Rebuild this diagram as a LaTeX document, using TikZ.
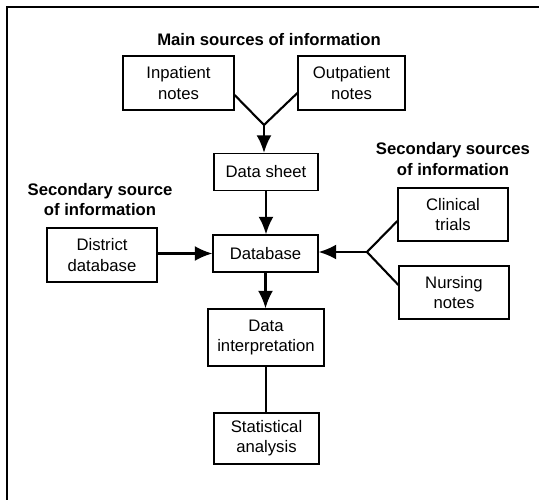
\documentclass[tikz,border=0pt]{standalone}
\usepackage{fontspec}
\setmainfont{Liberation Sans}
\usetikzlibrary{arrows.meta}

\begin{document}
\begin{tikzpicture}[x=0.02cm,y=-0.02cm,
		box/.style={draw,line width=0.7pt,inner sep=0pt,align=center,font=\fontsize{9.5}{11.5}\selectfont},
		head/.style={align=center,font=\fontsize{9.5}{11.5}\selectfont\bfseries},
		link/.style={line width=1.2pt},
		flow/.style={line width=1.2pt,-{Latex[length=10pt,width=8.5pt]}}]
			\useasboundingbox (0,0) rectangle (539,500);
			\draw [line width=0.8pt] (7,500)--(7,7)--(539,7);

			% headings
			\node [head] (mainhd) at (269,40) {Main sources of information};
			\node [head] (lefthd) at (100,199.5) {Secondary source\\of information};
			\node [head] (righthd) at (453,159) {Secondary sources\\of information};

			% boxes
			\node [box,minimum width=2.22cm,minimum height=1.08cm] (inpat) at (178.5,83) {Inpatient\\notes};
			\node [box,minimum width=2.14cm,minimum height=1.08cm] (outpat) at (351.5,83) {Outpatient\\notes};
			\node [box,minimum width=2.08cm,minimum height=0.74cm] (sheet) at (266,172) {Data sheet};
			\node [box,minimum width=2.10cm,minimum height=0.74cm] (dbase) at (265.5,253.5) {Database};
			\node [box,minimum width=2.20cm,minimum height=1.08cm] (district) at (102,255) {District\\database};
			\node [box,minimum width=2.20cm,minimum height=1.06cm] (clinical) at (453,214.5) {Clinical\\trials};
			\node [box,minimum width=2.20cm,minimum height=1.06cm] (nursing) at (454,292.5) {Nursing\\notes};
			\node [box,minimum width=2.32cm,minimum height=1.14cm] (interp) at (266,337.5) {Data\\interpretation};
			\node [box,minimum width=2.10cm,minimum height=1.02cm] (stats) at (266.5,438.5) {Statistical\\analysis};

			% junctions
			\coordinate (jtop) at (264,125);
			\coordinate (jright) at (367,252);

			\draw [link] ([yshift=-0.24cm]inpat.east)--(jtop)--([yshift=-0.2cm]outpat.west);
			\draw [flow] (jtop)--(jtop |- sheet.north);
			\draw [flow] (sheet.south)--(sheet.south |- dbase.north);
			\draw [flow] (district.east |- dbase.west)--(dbase.west);
			\draw [link] ([yshift=-0.13cm]clinical.west)--(jright)--([yshift=0.15cm]nursing.west);
			\draw [flow] (jright)--(dbase.east |- jright);
			\draw [flow] (dbase.south)--(dbase.south |- interp.north);
			\draw [link] (interp.south)--(interp.south |- stats.north);
			\end{tikzpicture}
\end{document}
